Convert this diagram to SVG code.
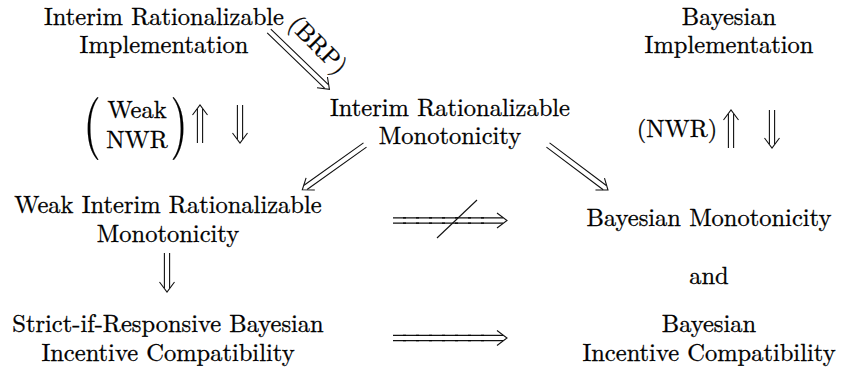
<svg xmlns="http://www.w3.org/2000/svg" width="841" height="371" viewBox="0 0 841 371" font-family="Latin Modern Roman, Liberation Serif, serif">
<style>
text{font-size:24.5px;fill:#000;stroke:#000;stroke-width:0.3;text-anchor:middle}
.ln{stroke:#111;stroke-width:1.1;fill:none}
.hd{stroke:#111;stroke-width:1.1;fill:none;stroke-linejoin:miter}
.dot{stroke:#000;stroke-width:1.4;stroke-dasharray:3 10;fill:none}
.par{font-size:63px;stroke-width:0.2}
</style>
<defs>
<path id="head" class="hd" d="M-10,-7.5 L0,0 L-10,7.5"/>
</defs>
<rect width="841" height="371" fill="#fff"/>

<g id="irImpl">
<text x="164" y="25">Interim Rationalizable</text>
<text x="164" y="53">Implementation</text>
</g>
<g id="bayImpl">
<text x="729" y="25">Bayesian</text>
<text x="729" y="53">Implementation</text>
</g>
<g id="irMono">
<text x="450" y="116">Interim Rationalizable</text>
<text x="450" y="144">Monotonicity</text>
</g>
<g id="wirMono">
<text x="168" y="213">Weak Interim Rationalizable</text>
<text x="168" y="242">Monotonicity</text>
</g>
<g id="bayMono">
<text x="709" y="226">Bayesian Monotonicity</text>
</g>
<g id="and">
<text x="709" y="284">and</text>
</g>
<g id="sirBIC">
<text x="168" y="332">Strict-if-Responsive Bayesian</text>
<text x="168" y="361">Incentive Compatibility</text>
</g>
<g id="bayIC">
<text x="709" y="332">Bayesian</text>
<text x="709" y="361">Incentive Compatibility</text>
</g>

<g id="labels">
<text transform="translate(318,45) rotate(45)" x="0" y="8">(BRP)</text>
<text class="par" transform="translate(92,0) scale(0.72,1)" x="0" y="144">(</text>
<text x="137" y="118">Weak</text>
<text x="137" y="148">NWR</text>
<text class="par" transform="translate(179,0) scale(0.72,1)" x="0" y="144">)</text>
<text x="677" y="137">(NWR)</text>
</g>

<g id="connectors">
<g transform="translate(269,31) rotate(44)">
<path class="ln" d="M0,-2.6 H80 M0,2.6 H80"/>
<use href="#head" x="84"/>
</g>
<g transform="translate(200,143) rotate(-90)">
<path class="ln" d="M0,-2.6 H34 M0,2.6 H34"/>
<use href="#head" x="38"/>
</g>
<g transform="translate(240,105) rotate(90)">
<path class="ln" d="M0,-2.6 H34 M0,2.6 H34"/>
<use href="#head" x="38"/>
</g>
<g transform="translate(731,148) rotate(-90)">
<path class="ln" d="M0,-2.6 H34 M0,2.6 H34"/>
<use href="#head" x="38"/>
</g>
<g transform="translate(772,110) rotate(90)">
<path class="ln" d="M0,-2.6 H34 M0,2.6 H34"/>
<use href="#head" x="38"/>
</g>
<g transform="translate(365,145) rotate(144.5)">
<path class="ln" d="M0,-2.6 H73 M0,2.6 H73"/>
<use href="#head" x="77"/>
</g>
<g transform="translate(548,145) rotate(36.9)">
<path class="ln" d="M0,-2.6 H71 M0,2.6 H71"/>
<use href="#head" x="75"/>
</g>
<g transform="translate(167,253) rotate(90)">
<path class="ln" d="M0,-2.6 H35 M0,2.6 H35"/>
<use href="#head" x="39"/>
</g>
<g transform="translate(393,220.5)">
<path class="ln" d="M0,-2.6 H110 M0,2.6 H110"/>
<path class="dot" d="M10,-2.6 H100 M10,2.6 H100"/>
<use href="#head" x="114"/>
</g>
<path class="ln" d="M477,200 L437,238"/>
<g transform="translate(393,338)">
<path class="ln" d="M0,-2.6 H110 M0,2.6 H110"/>
<path class="dot" d="M10,-2.6 H100 M10,2.6 H100"/>
<use href="#head" x="114"/>
</g>
</g>
</svg>
